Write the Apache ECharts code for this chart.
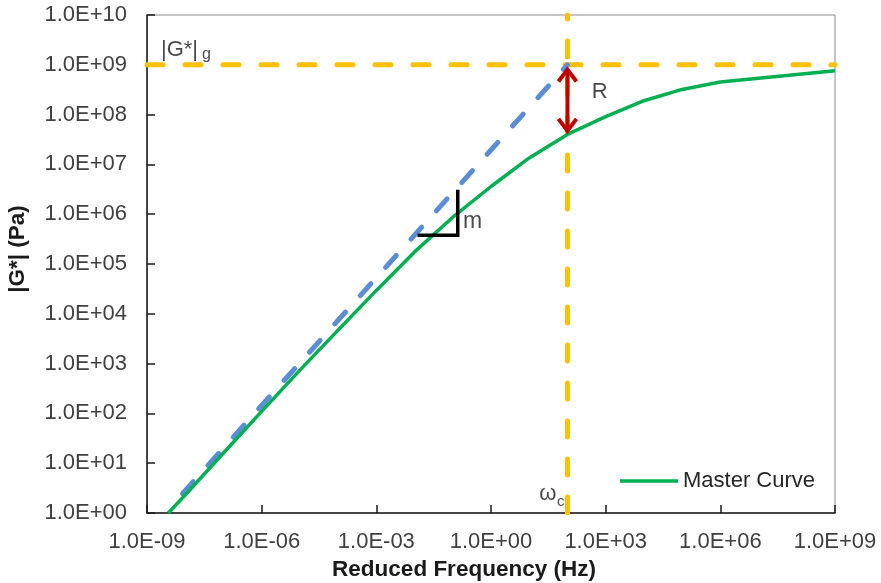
<!DOCTYPE html>
<html>
<head>
<meta charset="utf-8">
<script src="https://cdn.jsdelivr.net/npm/echarts@6/dist/echarts.min.js"></script>
<style>
  html, body { margin: 0; padding: 0; background: #ffffff; }
  #chart { width: 881px; height: 583px; }
</style>
</head>
<body>
<div id="chart"></div>
<script>
// Axis ticks (log scales) and their labels
const xTickValues = [1e-9, 1e-6, 1e-3, 1e0, 1e3, 1e6, 1e9];
const xTickLabels = ['1.0E-09', '1.0E-06', '1.0E-03', '1.0E+00', '1.0E+03', '1.0E+06', '1.0E+09'];
const yTickValues = [1e0, 1e1, 1e2, 1e3, 1e4, 1e5, 1e6, 1e7, 1e8, 1e9, 1e10];
const yTickLabels = ['1.0E+00', '1.0E+01', '1.0E+02', '1.0E+03', '1.0E+04', '1.0E+05',
                     '1.0E+06', '1.0E+07', '1.0E+08', '1.0E+09', '1.0E+10'];

// Master curve: reduced frequency (Hz) vs |G*| (Pa)
const masterFreq    = [3.6e-9, 1e-8, 1e-7, 1e-6, 1e-5, 1e-4, 1e-3, 1e-2, 1e-1, 1e0, 1e1, 1e2, 1e3, 1e4, 1e5, 1e6, 1e9];
const masterModulus = [1, 2.3, 16, 110, 740, 4.7e3, 2.95e4, 1.75e5, 8.7e5, 3.6e6, 1.35e7, 4.0e7, 9.1e7, 1.9e8, 3.2e8, 4.5e8, 7.6e8];

// Low-frequency asymptote running up to the glassy modulus at the crossover
const asymptoteFreq    = [8.5e-9, 1e2];
const asymptoteModulus = [2.45, 1e9];

// Glassy modulus |G*|g and crossover frequency ωc
const glassyModulus = 1e9;
const crossoverFreq = 1e2;

// Rheological index R: span between glassy modulus and curve at ωc
const rArrowTop = 8.8e8;
const rArrowBottom = 4.3e7;

// Slope marker m
const slopeMarkFreq    = [0.012, 0.135, 0.135];
const slopeMarkModulus = [3.8e5, 3.8e5, 3.1e6];

const FONT = '"Liberation Sans", Arial, sans-serif';

function pairs(xs, ys) { return xs.map((x, i) => [x, ys[i]]); }
function tickLabel(values, labels) {
  return function (v) {
    for (let i = 0; i < values.length; i++) {
      if (Math.abs(Math.log10(v) - Math.log10(values[i])) < 1e-6) return labels[i];
    }
    return '';
  };
}

const ORANGE = '#FFC000';
const dashStyle = { type: [16, 22], cap: 'round' };

const notes = [
  { value: [7.1e-9, 2.02e9], label: { formatter: '|G*|', fontSize: 22 } },
  { value: [3.6e-8, 1.6e9],  label: { formatter: 'g', fontSize: 16 } },
  { value: [702, 2.89e8],    label: { formatter: 'R', fontSize: 22 } },
  { value: [0.332, 7.0e5],   label: { formatter: 'm', fontSize: 23 } },
  { value: [30.5, 2.36],     label: { formatter: 'ω', fontSize: 22 } },
  { value: [66.7, 1.7],      label: { formatter: 'c', fontSize: 15 } }
];

const chart = echarts.init(document.getElementById('chart'), null, { renderer: 'canvas' });

chart.setOption({
  animation: false,
  backgroundColor: '#ffffff',
  textStyle: { fontFamily: FONT },
  grid: {
    left: 147, right: 46, top: 15, bottom: 70,
    show: true, borderColor: '#8c8c8c', borderWidth: 1,
    containLabel: false, outerBoundsMode: 'none'
  },
  legend: {
    left: 620, top: 470, padding: 0,
    itemWidth: 58, itemHeight: 3.5,
    textStyle: { fontSize: 22, color: '#262626', fontFamily: FONT },
    data: [{ name: 'Master Curve', icon: 'rect' }]
  },
  xAxis: {
    type: 'log', logBase: 10, min: 1e-9, max: 1e9,
    name: 'Reduced Frequency (Hz)',
    nameLocation: 'middle', nameGap: 42,
    nameTextStyle: { fontSize: 22.5, fontWeight: 'bold', color: '#1a1a1a', fontFamily: FONT, padding: [0, 54, 0, 0] },
    axisLine: { show: true, lineStyle: { color: '#1a1a1a', width: 1.5 } },
    axisTick: { show: true, inside: true, length: 8, customValues: xTickValues, lineStyle: { color: '#1a1a1a', width: 1.5 } },
    axisLabel: { customValues: xTickValues, formatter: tickLabel(xTickValues, xTickLabels), fontSize: 22, color: '#404040', margin: 18, fontFamily: FONT },
    splitLine: { show: false },
    minorTick: { show: false }
  },
  yAxis: {
    type: 'log', logBase: 10, min: 1, max: 1e10,
    name: '|G*| (Pa)',
    nameLocation: 'middle', nameGap: 118,
    nameTextStyle: { fontSize: 22.5, fontWeight: 'bold', color: '#1a1a1a', fontFamily: FONT, padding: [0, 0, 0, 30] },
    axisLine: { show: true, lineStyle: { color: '#1a1a1a', width: 1.5 } },
    axisTick: { show: true, inside: true, length: 8, customValues: yTickValues, lineStyle: { color: '#1a1a1a', width: 1.5 } },
    axisLabel: { customValues: yTickValues, formatter: tickLabel(yTickValues, yTickLabels), fontSize: 22, color: '#404040', margin: 20, fontFamily: FONT },
    splitLine: { show: false },
    minorTick: { show: false }
  },
  series: [
    {
      name: 'glassy', type: 'line', symbol: 'none', silent: true, z: 1,
      data: [[1e-9, glassyModulus], [1e9, glassyModulus]],
      lineStyle: Object.assign({ color: ORANGE, width: 5 }, dashStyle)
    },
    {
      name: 'crossover', type: 'line', symbol: 'none', silent: true, z: 1,
      data: [[crossoverFreq, 1], [crossoverFreq, 1e10]],
      lineStyle: Object.assign({ color: ORANGE, width: 5 }, dashStyle)
    },
    {
      name: 'asymptote', type: 'line', symbol: 'none', silent: true, z: 2,
      data: pairs(asymptoteFreq, asymptoteModulus),
      lineStyle: Object.assign({ color: '#5B8DD6', width: 5 }, dashStyle)
    },
    {
      name: 'Master Curve', type: 'line', symbol: 'none', silent: true, z: 3,
      data: pairs(masterFreq, masterModulus),
      itemStyle: { color: '#00B050' },
      lineStyle: { color: '#00B050', width: 3.5 }
    },
    {
      name: 'slope', type: 'line', symbol: 'none', silent: true, z: 4,
      data: pairs(slopeMarkFreq, slopeMarkModulus),
      lineStyle: { color: '#000000', width: 3.5, join: 'miter' }
    },
    {
      name: 'R', type: 'custom', silent: true, z: 10,
      encode: { x: 0, y: [1, 2] },
      data: [[crossoverFreq, rArrowTop, rArrowBottom]],
      renderItem: function (params, api) {
        const top = api.coord([api.value(0), api.value(1)]);
        const bot = api.coord([api.value(0), api.value(2)]);
        const w = 9, h = 14;
        const style = { stroke: '#C00000', lineWidth: 4, fill: null, lineDash: null, lineJoin: 'miter' };
        return {
          type: 'group',
          children: [
            { type: 'line', z2: 10, shape: { x1: top[0], y1: top[1] + 2, x2: bot[0], y2: bot[1] - 2 }, style: Object.assign({}, style) },
            { type: 'polyline', z2: 10, shape: { points: [[top[0] - w, top[1] + h], [top[0], top[1] + 2], [top[0] + w, top[1] + h]] }, style: Object.assign({}, style) },
            { type: 'polyline', z2: 10, shape: { points: [[bot[0] - w, bot[1] - h], [bot[0], bot[1] - 2], [bot[0] + w, bot[1] - h]] }, style: Object.assign({}, style) }
          ]
        };
      }
    },
    {
      name: 'notes', type: 'scatter', silent: true, z: 11,
      symbol: 'circle', symbolSize: 1,
      itemStyle: { color: 'rgba(0,0,0,0)' },
      label: { show: true, position: 'inside', color: '#1a1a1a', fontFamily: FONT },
      data: notes
    }
  ]
});
</script>
</body>
</html>
